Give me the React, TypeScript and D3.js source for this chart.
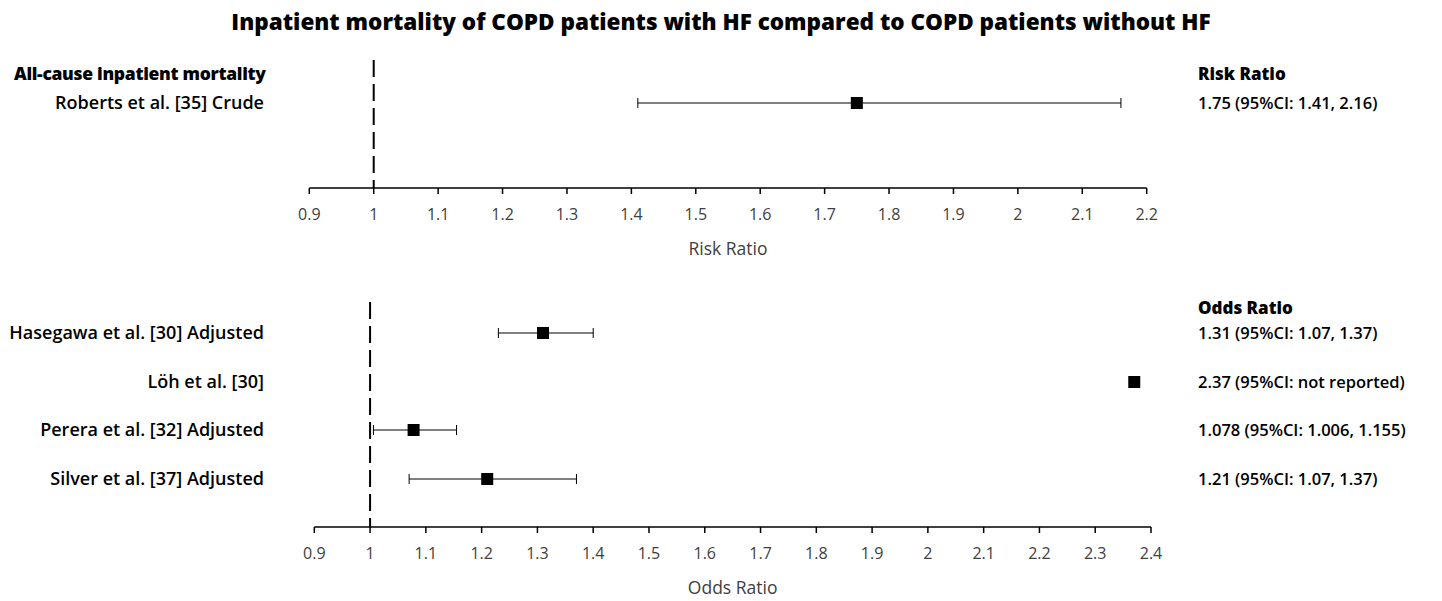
import React from "react";
import * as d3 from "d3";

// Risk ratio panel
const rrLabels = ["Roberts et al. [35] Crude"];
const rrEstimate = [1.75];
const rrLower = [1.41];
const rrUpper = [2.16];
const rrText = ["1.75 (95%CI: 1.41, 2.16)"];
const rrTicks = [0.9, 1, 1.1, 1.2, 1.3, 1.4, 1.5, 1.6, 1.7, 1.8, 1.9, 2, 2.1, 2.2];

// Odds ratio panel
const orLabels = [
  "Hasegawa et al. [30] Adjusted",
  "Löh et al. [30]",
  "Perera et al. [32] Adjusted",
  "Silver et al. [37] Adjusted",
];
const orEstimate = [1.31, 2.37, 1.078, 1.21];
const orLower: (number | null)[] = [1.23, null, 1.006, 1.07];
const orUpper: (number | null)[] = [1.4, null, 1.155, 1.37];
const orText = [
  "1.31 (95%CI: 1.07, 1.37)",
  "2.37 (95%CI: not reported)",
  "1.078 (95%CI: 1.006, 1.155)",
  "1.21 (95%CI: 1.07, 1.37)",
];
const orTicks = [0.9, 1, 1.1, 1.2, 1.3, 1.4, 1.5, 1.6, 1.7, 1.8, 1.9, 2, 2.1, 2.2, 2.3, 2.4];

const FONT = "'Open Sans', 'Noto Sans', sans-serif";
const LABEL_X = 264;
const VALUE_X = 1198;

type PanelProps = {
  labels: string[];
  est: number[];
  lo: (number | null)[];
  hi: (number | null)[];
  texts: string[];
  ticks: number[];
  xRange: [number, number];
  rowY: number[];
  axisY: number;
  refTop: number;
  header: string;
  headerY: number;
  groupHeader?: string;
  axisTitle: string;
};

function Panel(p: PanelProps) {
  const x = d3
    .scaleLinear()
    .domain([p.ticks[0], p.ticks[p.ticks.length - 1]])
    .range(p.xRange);
  const fmt = d3.format("");
  const markerSize = 12;
  const capH = 10;
  return (
    <g>
      {p.groupHeader && (
        <text x={14} y={p.headerY} fontFamily={FONT} fontWeight={800} fontSize={17.5} fill="#000" letterSpacing={-0.3}>
          {p.groupHeader}
        </text>
      )}
      <text x={VALUE_X} y={p.headerY} fontFamily={FONT} fontWeight={800} fontSize={17} fill="#000">
        {p.header}
      </text>
      {/* reference line at ratio 1 */}
      <line
        x1={x(1)}
        x2={x(1)}
        y1={p.refTop}
        y2={p.axisY}
        stroke="#000"
        strokeWidth={2}
        strokeDasharray="17,7"
      />
      {/* axis */}
      <line x1={x(p.ticks[0])} x2={x(p.ticks[p.ticks.length - 1])} y1={p.axisY} y2={p.axisY} stroke="#000" strokeWidth={1.5} />
      {p.ticks.map((t) => (
        <g key={t}>
          <line x1={x(t)} x2={x(t)} y1={p.axisY} y2={p.axisY + 6} stroke="#000" strokeWidth={1.5} />
          <text
            x={x(t)}
            y={p.axisY + 32}
            textAnchor="middle"
            fontFamily={FONT}
            fontSize={16}
            fill="#404040"
          >
            {fmt(t)}
          </text>
        </g>
      ))}
      <text
        x={(x(p.ticks[0]) + x(p.ticks[p.ticks.length - 1])) / 2}
        y={p.axisY + 67}
        textAnchor="middle"
        fontFamily={FONT}
        fontSize={17.5}
        fill="#404040"
      >
        {p.axisTitle}
      </text>
      {p.labels.map((lab, i) => {
        const y = p.rowY[i];
        const l = p.lo[i];
        const h = p.hi[i];
        return (
          <g key={lab}>
            <text x={LABEL_X} y={y + 6} textAnchor="end" fontFamily={FONT} fontWeight={600} fontSize={18} fill="#000">
              {lab}
            </text>
            {l !== null && h !== null && (
              <g stroke="#000" strokeWidth={1}>
                <line x1={x(l)} x2={x(h)} y1={y} y2={y} />
                <line x1={x(l)} x2={x(l)} y1={y - capH / 2} y2={y + capH / 2} />
                <line x1={x(h)} x2={x(h)} y1={y - capH / 2} y2={y + capH / 2} />
              </g>
            )}
            <rect
              x={x(p.est[i]) - markerSize / 2}
              y={y - markerSize / 2}
              width={markerSize}
              height={markerSize}
              fill="#000"
            />
            <text x={VALUE_X} y={y + 6} fontFamily={FONT} fontWeight={600} fontSize={16.5} fill="#000">
              {p.texts[i]}
            </text>
          </g>
        );
      })}
    </g>
  );
}

export default function App() {
  return (
    <svg
      width={1442}
      height={601}
      style={{ position: "absolute", left: 0, top: 0, background: "#fff" }}
    >
      <text x={721} y={30} textAnchor="middle" fontFamily={FONT} fontWeight={800} fontSize={22.5} fill="#000">
        Inpatient mortality of COPD patients with HF compared to COPD patients without HF
      </text>
      <Panel
        labels={rrLabels}
        est={rrEstimate}
        lo={rrLower}
        hi={rrUpper}
        texts={rrText}
        ticks={rrTicks}
        xRange={[309.3, 1146.7]}
        rowY={[103]}
        axisY={188}
        refTop={60}
        header="Risk Ratio"
        headerY={80}
        groupHeader="All-cause inpatient mortality"
        axisTitle="Risk Ratio"
      />
      <Panel
        labels={orLabels}
        est={orEstimate}
        lo={orLower}
        hi={orUpper}
        texts={orText}
        ticks={orTicks}
        xRange={[314.3, 1151]}
        rowY={[333, 382, 430, 479]}
        axisY={527}
        refTop={302}
        header="Odds Ratio"
        headerY={314}
        axisTitle="Odds Ratio"
      />
    </svg>
  );
}
